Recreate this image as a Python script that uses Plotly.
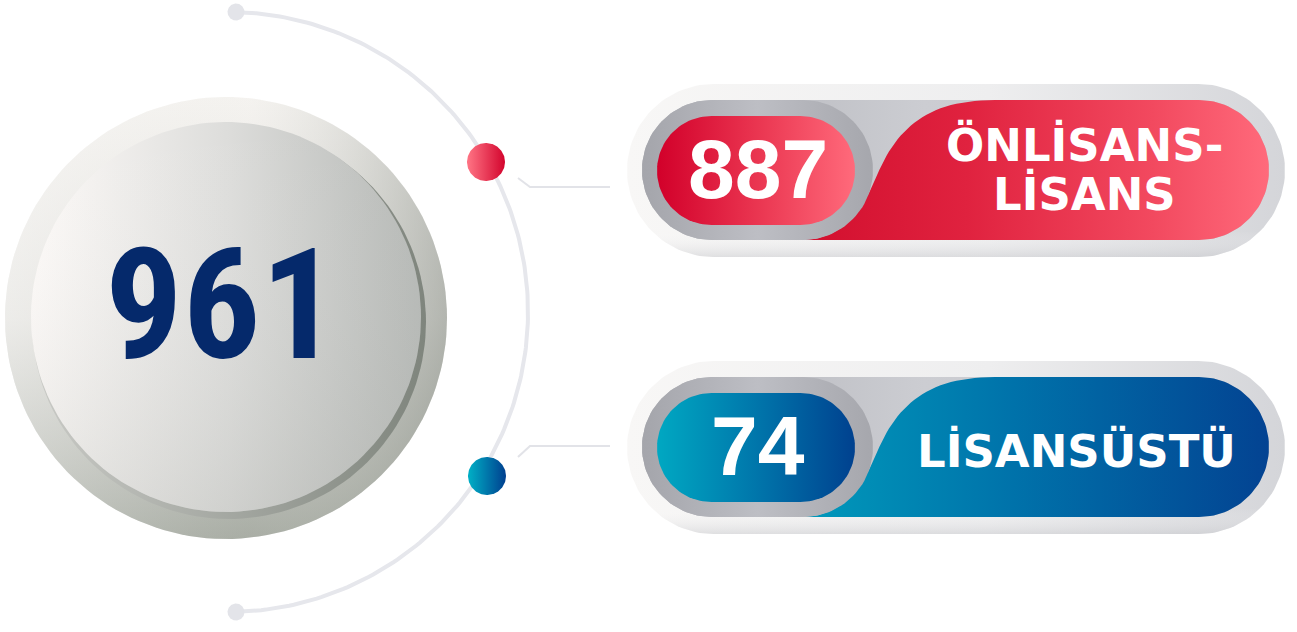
import numpy as np
import plotly.graph_objects as go

# ---------------- data ----------------
total_value = 961
categories = ["ÖNLİSANS-LİSANS", "LİSANSÜSTÜ"]
category_lines = [["ÖNLİSANS-", "LİSANS"], ["LİSANSÜSTÜ"]]
values = [887, 74]

# ---------------- style ----------------
W, H = 1297, 632
NAVY = "#05296b"
ARC_GREY = "#e6e7ec"
themes = [
    dict(dot=["#ff7585", "#d3042d"],
         num=[[0, "#d2002a"], [0.55, "#ec3a54"], [1, "#ff6a7b"]],
         bar=[[0, "#d20f2e"], [0.35, "#e0223f"], [0.75, "#f2495f"], [1, "#ff6a7b"]]),
    dict(dot=["#00b0c6", "#003f8f"],
         num=[[0, "#00a8c2"], [0.5, "#0076ab"], [1, "#00418f"]],
         bar=[[0, "#0099bb"], [0.45, "#0072aa"], [1, "#034392"]]),
]
row_offsets = [0, 277]

fig = go.Figure()


def add_poly(xs, ys, colorscale=None, color=None, gtype="horizontal"):
    kw = dict(x=list(xs), y=list(ys), mode="lines", fill="toself",
              line=dict(width=0), hoverinfo="skip", showlegend=False)
    if colorscale is not None:
        kw["fillgradient"] = dict(type=gtype, colorscale=colorscale)
    else:
        kw["fillcolor"] = color
    fig.add_trace(go.Scatter(**kw))


def vscale(top_to_bottom):
    # y axis is reversed, so vertical gradients run bottom -> top on screen
    return [[1 - p, c] for p, c in reversed(top_to_bottom)]


def circle_pts(cx, cy, r, n=160):
    t = np.linspace(0, 2 * np.pi, n)
    return cx + r * np.cos(t), cy + r * np.sin(t)


def pill_pts(x0, x1, y0, y1, n=60):
    r = (y1 - y0) / 2
    cy = (y0 + y1) / 2
    a1 = np.linspace(-np.pi / 2, np.pi / 2, n)
    a2 = np.linspace(np.pi / 2, 3 * np.pi / 2, n)
    xs = np.concatenate([x1 - r + r * np.cos(a1), x0 + r + r * np.cos(a2)])
    ys = np.concatenate([cy + r * np.sin(a1), cy + r * np.sin(a2)])
    return np.append(xs, xs[0]), np.append(ys, ys[0])


def bez(p0, p1, p2, p3, n=30):
    t = np.linspace(0, 1, n)[:, None]
    p0, p1, p2, p3 = map(np.array, (p0, p1, p2, p3))
    pts = (1 - t) ** 3 * p0 + 3 * (1 - t) ** 2 * t * p1 + 3 * (1 - t) * t ** 2 * p2 + t ** 3 * p3
    return pts[:, 0], pts[:, 1]


# ---------------- arc with end dots ----------------
acx, acy, ar = 228, 312, 300
th = np.linspace(-np.pi / 2, np.pi / 2, 200)
fig.add_trace(go.Scatter(x=acx + ar * np.cos(th), y=acy + ar * np.sin(th), mode="lines",
                         line=dict(color=ARC_GREY, width=4), hoverinfo="skip", showlegend=False))
for ey in (12, 612):
    xs, ys = circle_pts(236, ey, 8.5)
    add_poly(xs, ys, color="#e3e4e9")

# ---------------- big total circle ----------------
bcx, bcy = 226, 317
xs, ys = circle_pts(bcx, bcy + 1, 221)
add_poly(xs, ys, colorscale=vscale([[0, "#f7f5f2"], [0.5, "#e3e2de"], [1, "#a3a89f"]]),
         gtype="vertical")
add_poly(xs, ys, colorscale=[[0, "rgba(255,255,255,0.35)"], [0.55, "rgba(220,220,216,0.1)"],
                             [1, "rgba(130,136,128,0.5)"]])
xs, ys = circle_pts(bcx + 3, bcy + 5, 197)
add_poly(xs, ys, colorscale=[[0, "#c9cac6"], [1, "#7f857d"]])
xs, ys = circle_pts(bcx, bcy, 195)
add_poly(xs, ys, colorscale=[[0, "#fdfaf8"], [0.5, "#dddddb"], [1, "#b3b6b3"]])
add_poly(xs, ys, colorscale=vscale([[0, "rgba(255,255,255,0.0)"], [1, "rgba(170,173,168,0.25)"]]),
         gtype="vertical")

# ---------------- category rows ----------------
annotations = [dict(x=221, y=305, text=str(total_value), showarrow=False,
                    xanchor="center", yanchor="middle",
                    font=dict(family="Liberation Sans Narrow, Roboto Condensed, Liberation Sans",
                              size=154, color=NAVY, weight="bold"))]

dot_pos = [(486, 162), (487, 476)]
connectors = [([518, 530, 610], [178, 187, 187]), ([518, 530, 610], [457, 446, 446])]

for i, (lines, val, th_, off) in enumerate(zip(category_lines, values, themes, row_offsets)):
    # connector
    cxs, cys = connectors[i]
    fig.add_trace(go.Scatter(x=cxs, y=cys, mode="lines", line=dict(color="#e2e3e8", width=2),
                             hoverinfo="skip", showlegend=False))
    # dot on arc
    dx, dy = dot_pos[i]
    xs, ys = circle_pts(dx, dy, 19)
    add_poly(xs, ys, colorscale=[[0, th_["dot"][0]], [1, th_["dot"][1]]])

    # outer white pill
    xs, ys = pill_pts(627, 1285, 84 + off, 257 + off)
    add_poly(xs, ys, colorscale=[[0, "#f8f7f6"], [0.55, "#eeeeef"], [1, "#d4d5d9"]])
    add_poly(xs, ys, colorscale=vscale([[0, "rgba(255,255,255,0)"], [0.85, "rgba(255,255,255,0)"],
                                        [1, "rgba(200,201,205,0.5)"]]), gtype="vertical")
    # grey track
    xs, ys = pill_pts(642, 1269, 100 + off, 240 + off)
    add_poly(xs, ys, colorscale=[[0, "#b0b1b7"], [0.45, "#cccdd2"], [1, "#c2c3c8"]])
    # main coloured bar with S-curve
    x1, y1 = bez((805, 240 + off), (840, 238 + off), (860, 215 + off), (875, 180 + off))
    x2, y2 = bez((875, 180 + off), (895, 130 + off), (925, 100 + off), (995, 100 + off))
    a = np.linspace(-np.pi / 2, np.pi / 2, 60)
    bx = np.concatenate([x1, x2, 1199 + 70 * np.cos(a), [805]])
    by = np.concatenate([y1, y2, 170 + off + 70 * np.sin(a), [240 + off]])
    add_poly(bx, by, colorscale=th_["bar"])
    # ring around the number
    xs, ys = pill_pts(642, 873, 100 + off, 240 + off)
    add_poly(xs, ys, colorscale=[[0, "#a4a5ab"], [0.5, "#bdbec4"], [1, "#a6a7ad"]])
    # number pill
    xs, ys = pill_pts(657, 855, 116 + off, 225 + off)
    add_poly(xs, ys, colorscale=th_["num"])

    annotations.append(dict(x=758, y=169 + off, text=str(val), showarrow=False,
                            xanchor="center", yanchor="middle",
                            font=dict(family="Liberation Sans, Arial", size=84,
                                      color="white", weight="bold")))
    if len(lines) == 2:
        ys_txt = [145 + off, 194 + off]
    else:
        ys_txt = [174 + off]
    for t, yy in zip(lines, ys_txt):
        annotations.append(dict(x=1084 if len(lines) == 2 else 1076, y=yy, text=t,
                                showarrow=False, xanchor="center", yanchor="middle",
                                font=dict(family="DejaVu Sans", size=45, color="white",
                                          weight="bold")))

fig.update_layout(
    width=W, height=H,
    margin=dict(l=0, r=0, t=0, b=0),
    paper_bgcolor="white", plot_bgcolor="white",
    xaxis=dict(range=[0, W], visible=False, fixedrange=True),
    yaxis=dict(range=[H, 0], visible=False, fixedrange=True),
    annotations=annotations,
    showlegend=False,
)

fig.write_html("out.html", config={"displayModeBar": False},
               post_script="document.body.style.margin='0px';document.body.style.overflow='hidden';")
